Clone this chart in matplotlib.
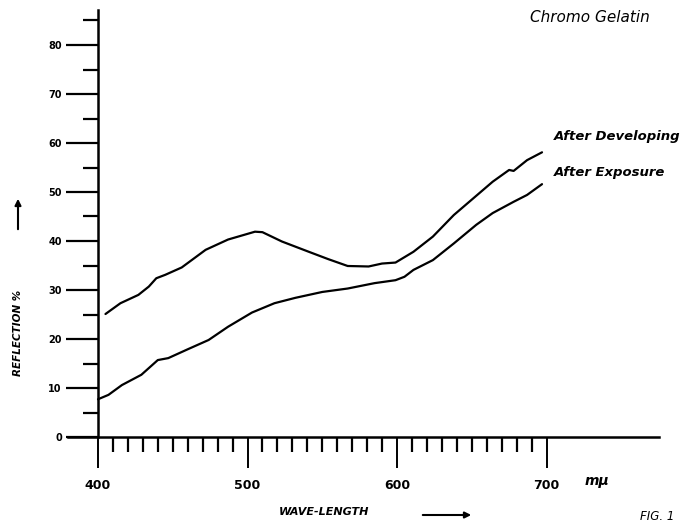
import matplotlib
matplotlib.use('Agg')
import matplotlib.pyplot as plt
from matplotlib.ticker import FixedLocator

# Curves (wavelength in m-mu, reflection in %)
dev_wl = [405, 415, 427, 434, 439, 445, 456, 472, 487, 505, 510, 523, 541, 554,
          567, 581, 590, 599, 605, 611, 624, 638, 651, 664, 675, 678, 687, 697]
dev_val = [25.1, 27.3, 29.0, 30.7, 32.4, 33.1, 34.6, 38.2, 40.3, 41.9, 41.8, 39.9,
           37.8, 36.3, 34.9, 34.8, 35.4, 35.6, 36.7, 37.8, 40.9, 45.3, 48.7, 52.1,
           54.5, 54.3, 56.5, 58.1]

exp_wl = [400, 407, 416, 429, 440, 447, 460, 474, 487, 503, 518, 532, 550, 567,
          585, 599, 605, 611, 624, 638, 653, 664, 678, 687, 697]
exp_val = [7.7, 8.6, 10.6, 12.7, 15.7, 16.1, 17.9, 19.8, 22.5, 25.4, 27.3, 28.4,
           29.6, 30.3, 31.4, 32.0, 32.7, 34.1, 36.1, 39.5, 43.3, 45.7, 48.0, 49.4, 51.6]

x_major = [400, 500, 600, 700]
x_minor = [w for w in range(410, 700, 10) if w not in x_major]
y_major = list(range(0, 90, 10))
y_minor = list(range(5, 90, 10))

W, H = 697, 522
fig = plt.figure(figsize=(W / 100, H / 100), dpi=100)
ax = fig.add_axes([0, 0, 1, 1])
ax.patch.set_alpha(0)

# pixel mapping of the original drawing
ax.set_xlim(400 - 98 / 1.495, 400 + (W - 98) / 1.495)
ax.set_ylim(-(H - 437) / 4.9, 437 / 4.9)

ax.plot(dev_wl, dev_val, color='black', lw=1.6, solid_capstyle='round')
ax.plot(exp_wl, exp_val, color='black', lw=1.6, solid_capstyle='round')

for side in ['top', 'right']:
    ax.spines[side].set_visible(False)
ax.spines['left'].set_position(('data', 400))
ax.spines['bottom'].set_position(('data', 0))
ax.spines['left'].set_bounds(0, 87.2)
ax.spines['bottom'].set_bounds(380, 775)
ax.spines['left'].set_linewidth(1.8)
ax.spines['bottom'].set_linewidth(1.8)

ax.xaxis.set_major_locator(FixedLocator(x_major))
ax.xaxis.set_minor_locator(FixedLocator(x_minor))
ax.yaxis.set_major_locator(FixedLocator(y_major))
ax.yaxis.set_minor_locator(FixedLocator(y_minor))

ax.tick_params(axis='x', which='major', direction='out', length=22, width=1.4,
               pad=8, labelsize=9)
ax.tick_params(axis='x', which='minor', direction='out', length=11, width=1.6)
ax.tick_params(axis='y', which='major', direction='out', length=23, width=1.6,
               pad=3, labelsize=7)
ax.tick_params(axis='y', which='minor', direction='out', length=11, width=1.6)
for lab in ax.get_xticklabels() + ax.get_yticklabels():
    lab.set_fontweight('bold')

hand = dict(fontweight='bold', fontstyle='italic', color='black')
ax.text(705, 61.4, 'After Developing', fontsize=9.5, va='center', ha='left', **hand)
ax.text(705, 53.9, 'After Exposure', fontsize=9.5, va='center', ha='left', **hand)

fig.text(530 / W, 1 - 18 / H, 'Chromo Gelatin', fontsize=11, fontstyle='italic',
         va='center', ha='left')
fig.text(597 / W, 1 - 481 / H, 'mμ', fontsize=10, fontstyle='italic',
         fontweight='bold', va='center', ha='center')
fig.text(18 / W, 1 - 333 / H, 'REFLECTION %', fontsize=7.5, rotation=90,
         va='center', ha='center', **hand)
fig.text(324 / W, 1 - 512 / H, 'WAVE-LENGTH', fontsize=8, va='center',
         ha='center', **hand)
fig.text(640 / W, 1 - 517 / H, 'FIG. 1', fontsize=8.5, fontstyle='italic',
         va='center', ha='left')

arrow = dict(arrowstyle='-|>', color='black', lw=1.5, mutation_scale=9)
ax.annotate('', xy=(18, H - 196), xytext=(18, H - 232),
            xycoords='figure pixels', textcoords='figure pixels', arrowprops=arrow)
ax.annotate('', xy=(474, H - 515), xytext=(420, H - 515),
            xycoords='figure pixels', textcoords='figure pixels', arrowprops=arrow)

fig.savefig('out.png', dpi=100)
